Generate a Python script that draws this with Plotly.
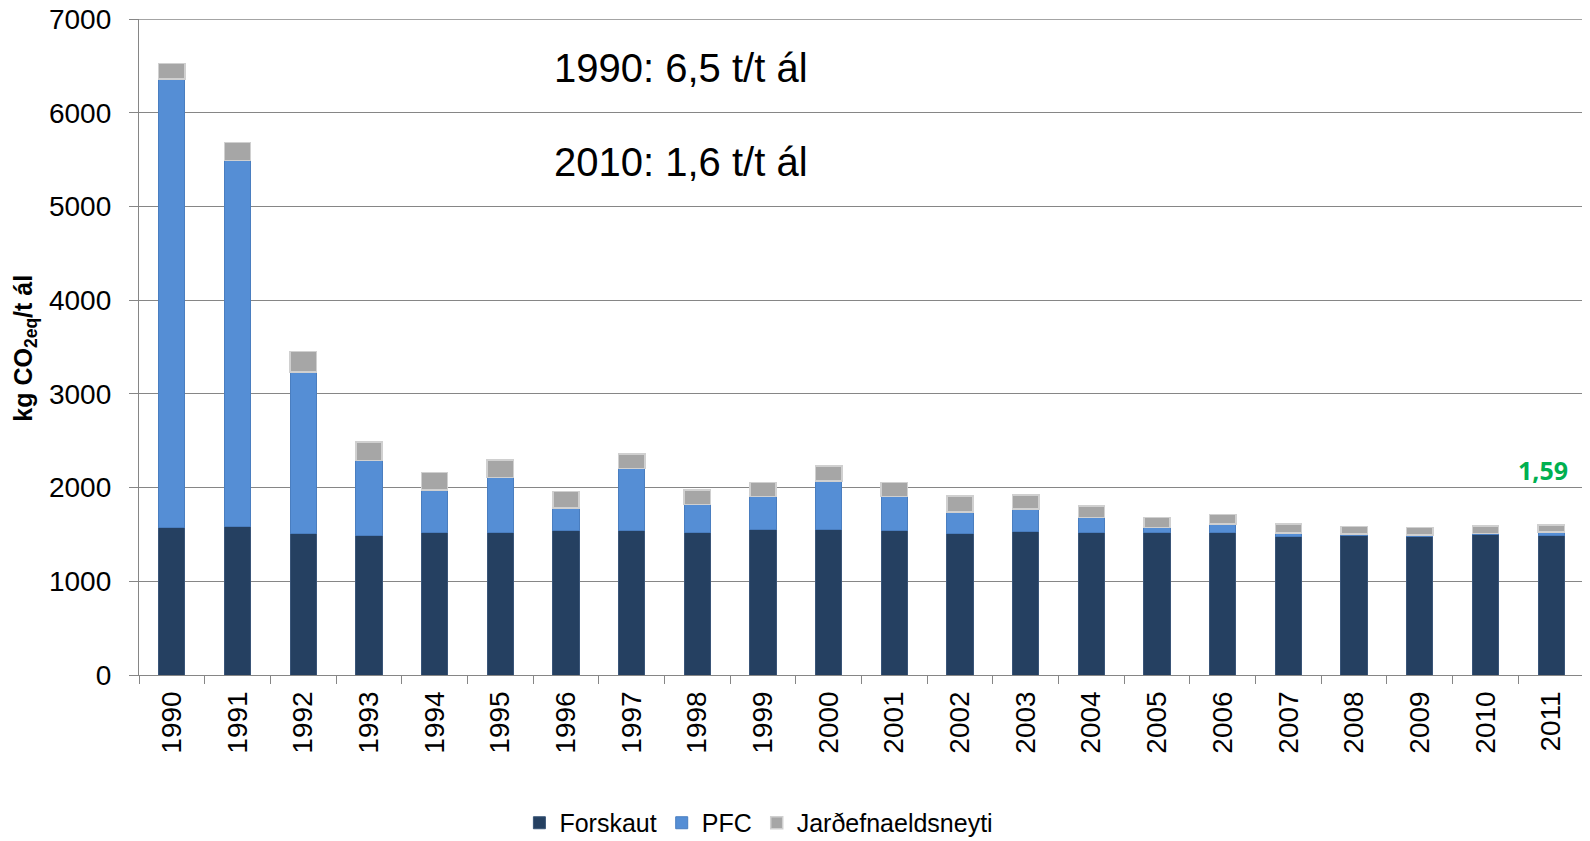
import plotly.graph_objects as go

years = [str(y) for y in range(1990, 2012)]
forskaut = [1573, 1580, 1505, 1491, 1516, 1523, 1537, 1541, 1520, 1555, 1555,
            1541, 1512, 1530, 1519, 1523, 1523, 1477, 1487, 1477, 1495, 1487]
pfc = [4787, 3910, 1730, 797, 456, 587, 246, 662, 302, 349, 516,
       363, 225, 242, 164, 50, 89, 36, 18, 18, 14, 40]
jardefna = [163, 193, 217, 196, 188, 182, 174, 156, 153, 149, 160,
            149, 174, 150, 121, 107, 103, 96, 78, 78, 82, 71]
y_max = 7000

FONT = "Liberation Sans, Arial, sans-serif"
GRID = "#868686"

fig = go.Figure()
fig.add_trace(go.Bar(x=years, y=forskaut, name="Forskaut",
                     marker=dict(color="#254061", line=dict(color="#3A5578", width=1))))
fig.add_trace(go.Bar(x=years, y=pfc, name="PFC",
                     marker=dict(color="#558ED5", line=dict(color="#4A7EC0", width=1))))
fig.add_trace(go.Bar(x=years, y=jardefna, name="Jarðefnaeldsneyti",
                     marker=dict(color="#A6A6A6", line=dict(color="#D0D0D0", width=1.5))))

fig.update_layout(
    barmode="stack",
    bargap=0.6,
    width=1582, height=833,
    margin=dict(l=131, r=6, t=11, b=166, autoexpand=False),
    paper_bgcolor="white", plot_bgcolor="white",
    font=dict(family=FONT, color="black", size=28),
    showlegend=True,
    legend=dict(orientation="h", x=0.429, xanchor="center", y=-0.2256, yanchor="middle",
                font=dict(size=25, family=FONT), traceorder="normal",
                itemwidth=30),
    xaxis=dict(type="category", showline=True, linecolor=GRID, linewidth=1.3,
               ticks="outside", tickson="boundaries", ticklen=8, tickcolor=GRID, tickwidth=1.3,
               tickangle=-90, tickfont=dict(size=28, family=FONT), showgrid=False,
               automargin=False, ticklabelstandoff=4),
    yaxis=dict(range=[0, y_max], dtick=1000, showline=True, linecolor=GRID, linewidth=1.3,
               ticks="outside", ticklen=9, tickcolor=GRID, tickwidth=1.3,
               showgrid=True, gridcolor=GRID, gridwidth=1.3, zeroline=False,
               tickfont=dict(size=28, family=FONT), automargin=False,
               ticklabelstandoff=12, ticklabeloverflow="allow"),
)

# top gridline (Plotly clips gridlines lying exactly on the plot edge)
fig.add_shape(type="line", xref="paper", yref="y", x0=0, x1=1, y0=y_max, y1=y_max,
              line=dict(color=GRID, width=1.3), layer="below")

fig.add_annotation(text="<b>kg CO<sub>2eq</sub>/t ál</b>", xref="paper", yref="paper",
                   x=-0.079, y=0.4987, xanchor="center", yanchor="middle", textangle=-90,
                   showarrow=False, font=dict(size=25, family=FONT, color="black"))
fig.add_annotation(text="1990: 6,5 t/t ál", xref="paper", yref="paper",
                   x=0.2858, y=0.9257, xanchor="left", yanchor="middle", showarrow=False,
                   font=dict(size=40, family=FONT, color="black"))
fig.add_annotation(text="2010: 1,6 t/t ál", xref="paper", yref="paper",
                   x=0.2858, y=0.7824, xanchor="left", yanchor="middle", showarrow=False,
                   font=dict(size=40, family=FONT, color="black"))
fig.add_annotation(text="<b>1,59</b>", xref="paper", yref="paper",
                   x=0.9716, y=0.3126, xanchor="center", yanchor="middle", showarrow=False,
                   font=dict(size=25, family="Noto Sans, sans-serif", color="#00B050"))

fig.write_html("out.html")
